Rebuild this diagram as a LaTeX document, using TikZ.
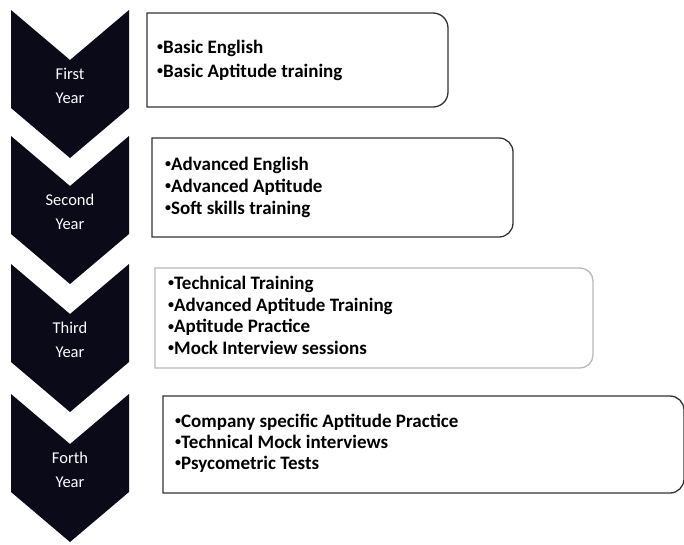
\documentclass[tikz,border=0pt]{standalone}
\usepackage{fontspec}
\setmainfont{Carlito}
\definecolor{chev}{RGB}{10,10,24}
\definecolor{boxline}{RGB}{50,50,50}
\definecolor{boxlight}{RGB}{185,185,185}
\newcommand{\bul}{\raisebox{0.15em}{\fontsize{12}{12}\selectfont•}}
\begin{document}
\begin{tikzpicture}[x=1pt,y=1pt,
  chevron/.style={fill=chev,draw=none},
  yeartext/.style={text=white,font=\fontsize{16.5}{24}\selectfont,align=center,inner sep=0pt},
  boxframe/.style={draw=boxline,line width=1.3pt},
  itemtext/.style={font=\bfseries\fontsize{19}{22}\selectfont,align=left,inner sep=0pt,anchor=west}]
\useasboundingbox (0,0) rectangle (684,-544);
% chevrons
\foreach \t/\nm/\lab in {10/c1/{First\\Year},136/c2/{Second\\Year},264/c3/{Third\\Year},394/c4/{Forth\\Year}}{
  \fill[chevron] (11,-\t) -- (70,-\t-50) -- (129,-\t) -- (129,-\t-98) -- (70,-\t-148) -- (11,-\t-98) -- cycle;
  \node[yeartext] (\nm) at (70,-\t-76) {\lab};
}
% boxes
\newcommand{\mybox}[6]{% left, top, right, bottom, radius, style
  \draw[#6] (#1,-#2) -- ({#3-#5},-#2) arc[start angle=90,end angle=0,radius=#5] -- (#3,{-#4+#5}) arc[start angle=0,end angle=-90,radius=#5] -- (#1,-#4) -- cycle;}
\mybox{147}{13}{448}{107}{15}{boxframe}
\mybox{152}{138}{513}{237}{14}{boxframe}
\mybox{155}{268}{593}{368}{13}{boxframe,draw=boxlight}
\mybox{163}{396}{684}{493}{14}{boxframe}
\node[itemtext,font=\bfseries\fontsize{19}{24}\selectfont] (b1) at (157,-60) {\bul Basic English\\\bul Basic Aptitude training};
\node[itemtext] (b2) at (165,-187) {\bul Advanced English\\\bul Advanced Aptitude\\\bul Soft skills training};
\node[itemtext,font=\bfseries\fontsize{19}{21.7}\selectfont] (b3) at (168,-315.5) {\bul Technical Training\\\bul Advanced Aptitude Training\\\bul Aptitude Practice\\\bul Mock Interview sessions};
\node[itemtext,font=\bfseries\fontsize{19}{21}\selectfont] (b4) at (175,-443) {\bul Company specific Aptitude Practice\\\bul Technical Mock interviews\\\bul Psycometric Tests};
\end{tikzpicture}
\end{document}
